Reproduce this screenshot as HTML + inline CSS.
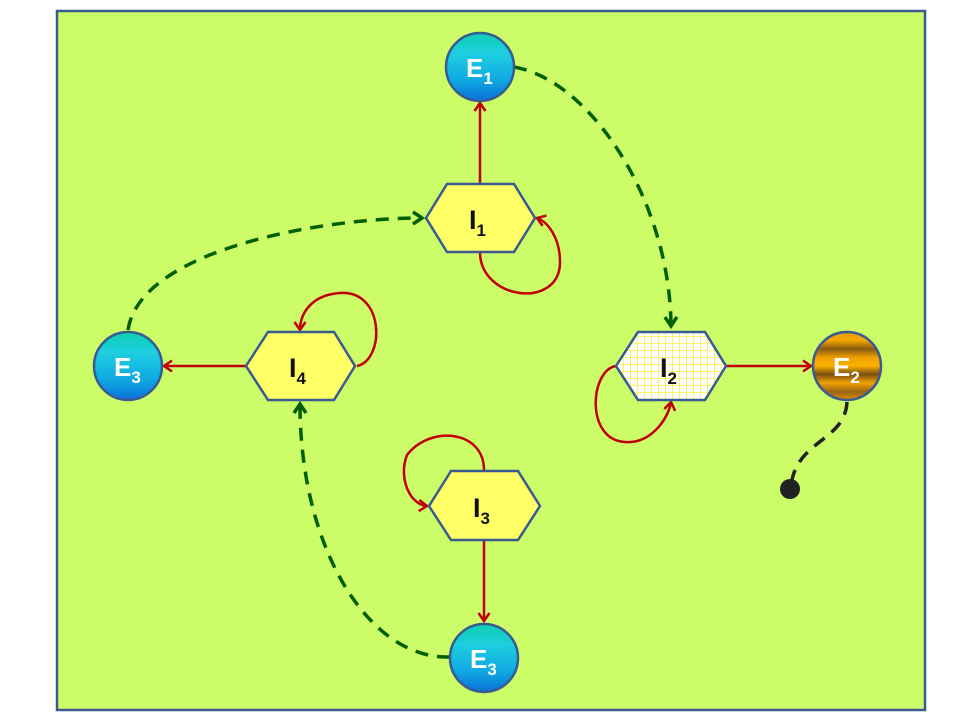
<!DOCTYPE html>
<html><head><meta charset="utf-8"><style>
html,body{margin:0;padding:0;background:#fff;width:960px;height:720px;overflow:hidden}
text{font-family:"Liberation Sans",sans-serif;font-weight:bold}
</style></head><body>
<svg width="960" height="720" viewBox="0 0 960 720" xmlns="http://www.w3.org/2000/svg">
<defs>
<linearGradient id="cy" x1="0" y1="0" x2="0" y2="1">
<stop offset="0" stop-color="#0ccfb0"/><stop offset="0.3" stop-color="#1ecfe0"/><stop offset="0.7" stop-color="#10a8e2"/><stop offset="1" stop-color="#0870d8"/>
</linearGradient>
<linearGradient id="or" x1="0" y1="0" x2="0" y2="1">
<stop offset="0" stop-color="#e89a10"/><stop offset="0.12" stop-color="#f5a800"/><stop offset="0.25" stop-color="#8a5a10"/><stop offset="0.38" stop-color="#f2a200"/><stop offset="0.5" stop-color="#f8b000"/><stop offset="0.62" stop-color="#7a4e10"/><stop offset="0.75" stop-color="#f0a000"/><stop offset="0.88" stop-color="#9a6410"/><stop offset="1" stop-color="#e09000"/>
</linearGradient>
<pattern id="grid" width="7" height="7" patternUnits="userSpaceOnUse">
<rect width="7" height="7" fill="#fff"/><path d="M0 0H7M0 0V7" stroke="#f5f040" stroke-width="1.6"/>
</pattern>
<marker id="ar" markerWidth="14" markerHeight="14" refX="10" refY="7" orient="auto" markerUnits="userSpaceOnUse">
<path d="M2 1.5 L10 7 L2 12.5" fill="none" stroke="#c00000" stroke-width="2.5"/>
</marker>
<marker id="ag" markerWidth="16" markerHeight="16" refX="11" refY="8" orient="auto" markerUnits="userSpaceOnUse">
<path d="M2 2 L11 8 L2 14" fill="none" stroke="#006000" stroke-width="3.5"/>
</marker>
</defs>
<rect x="57" y="11" width="868" height="699" fill="#ccfd68" stroke="#3a5a92" stroke-width="2.5"/>

<g fill="none" stroke="#006000" stroke-width="3.5" stroke-dasharray="13,9">
<path d="M514,67 C590,80 670,200 671,326" marker-end="url(#ag)"/>
<path d="M128,330 C140,250 320,218 422,218" marker-end="url(#ag)"/>
<path d="M450,657 C370,660 300,550 300,404" marker-end="url(#ag)"/>
</g>
<path d="M847,402 C845,440 800,440 792,480" fill="none" stroke="#222" stroke-width="3.5" stroke-dasharray="13,9"/>
<circle cx="790" cy="489" r="10" fill="#222"/>

<g fill="none" stroke="#c00000" stroke-width="2.5">
<path d="M480,184 L480,103" marker-end="url(#ar)"/>
<path d="M246,366 L164,366" marker-end="url(#ar)"/>
<path d="M726,366 L811,366" marker-end="url(#ar)"/>
<path d="M484,540 L484,621" marker-end="url(#ar)"/>
<path d="M480,252 C480,300 560,310 560,262 C560,238 548,222 537,218" marker-end="url(#ar)"/>
<path d="M357,366 C385,360 385,290 340,293 C310,295 300,315 300,330" marker-end="url(#ar)"/>
<path d="M616,366 C590,370 585,440 625,442 C650,444 668,420 671,402" marker-end="url(#ar)"/>
<path d="M484,470 C484,430 430,425 407,455 C398,478 410,505 427,506" marker-end="url(#ar)"/>
</g>

<g stroke="#3a5a92" stroke-width="2.5">
<polygon points="426,218 447,184 514,184 535,218 514,252 447,252" fill="#ffff66"/>
<polygon points="616,366 638,332 705,332 726,366 705,400 638,400" fill="url(#grid)"/>
<polygon points="246,366 268,332 334,332 355,366 334,400 268,400" fill="#ffff66"/>
<polygon points="429,506 451,471 518,471 540,506 518,540 451,540" fill="#ffff66"/>
</g>
<g fill="#111">
<text x="469" y="229" font-size="27">I<tspan font-size="17" dy="7">1</tspan></text>
<text x="660" y="377" font-size="27">I<tspan font-size="17" dy="7">2</tspan></text>
<text x="289" y="377" font-size="27">I<tspan font-size="17" dy="7">4</tspan></text>
<text x="473" y="517" font-size="27">I<tspan font-size="17" dy="7">3</tspan></text>
</g>

<g stroke="#3a5a92" stroke-width="2.5">
<circle cx="480" cy="67" r="34" fill="url(#cy)"/>
<circle cx="847" cy="366" r="34" fill="url(#or)"/>
<circle cx="128" cy="366" r="34" fill="url(#cy)"/>
<circle cx="484" cy="658" r="34" fill="url(#cy)"/>
</g>
<g fill="#fff">
<text x="466" y="77" font-size="26">E<tspan font-size="17" dy="7">1</tspan></text>
<text x="833" y="376" font-size="26">E<tspan font-size="17" dy="7">2</tspan></text>
<text x="114" y="376" font-size="26">E<tspan font-size="17" dy="7">3</tspan></text>
<text x="470" y="668" font-size="26">E<tspan font-size="17" dy="7">3</tspan></text>
</g>
</svg>
</body></html>
